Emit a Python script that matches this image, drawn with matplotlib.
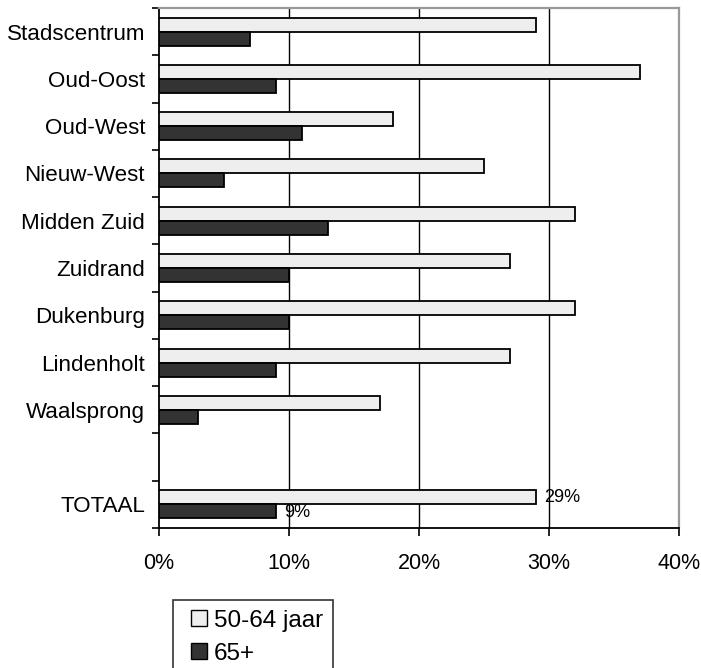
import matplotlib
matplotlib.use("Agg")
import matplotlib.pyplot as plt
from matplotlib.patches import Patch, Rectangle
from matplotlib.legend_handler import HandlerPatch
import numpy as np

plt.rcParams['font.family'] = ['Liberation Sans', 'DejaVu Sans']

categories = ["Stadscentrum", "Oud-Oost", "Oud-West", "Nieuw-West", "Midden Zuid",
              "Zuidrand", "Dukenburg", "Lindenholt", "Waalsprong", "", "TOTAAL"]
series_names = ["50-64 jaar", "65+"]
vals_5064 = [29, 37, 18, 25, 32, 27, 32, 27, 17, None, 29]
vals_65 = [7, 9, 11, 5, 13, 10, 10, 9, 3, None, 9]
label_rows = ["TOTAAL"]
x_ticks = [0, 10, 20, 30, 40]
x_ticklabels = ["0%", "10%", "20%", "30%", "40%"]

light = "#eeeeee"
dark = "#333333"


class SquareAtRight(HandlerPatch):
    """Legend key drawn as a small square at the right end of the handle box."""

    def create_artists(self, legend, orig_handle, xdescent, ydescent,
                       width, height, fontsize, trans):
        side = height * 1.05
        p = Rectangle((width - side - xdescent, -ydescent + (height - side) / 2),
                      side, side, facecolor=orig_handle.get_facecolor(),
                      edgecolor="black", linewidth=1.0, transform=trans)
        return [p]


fig = plt.figure(figsize=(7.01, 6.68), dpi=100)
ax = fig.add_axes([0.2268, 0.2096, 0.7418, 0.7784])

pos = np.arange(len(categories))
h = 0.296
for i, (a, b) in enumerate(zip(vals_5064, vals_65)):
    if a is None:
        continue
    ax.barh(pos[i] - h / 2, a, height=h, color=light, edgecolor="black", linewidth=1.3, zorder=3)
    ax.barh(pos[i] + h / 2, b, height=h, color=dark, edgecolor="black", linewidth=1.3, zorder=3)
    if categories[i] in label_rows:
        ax.text(a + 0.6, pos[i] - h / 2, f"{a}%", va="center", ha="left", fontsize=13, zorder=4)
        ax.text(b + 0.6, pos[i] + h / 2 + 0.02, f"{b}%", va="center", ha="left", fontsize=13, zorder=4)

ax.set_xlim(0, 40)
ax.set_ylim(len(categories) - 0.5, -0.5)

ax.set_xticks(x_ticks)
ax.set_xticklabels(x_ticklabels, fontsize=15.5)
ax.tick_params(axis="x", direction="out", length=6, width=1.2, pad=12, color="black")

ax.set_yticks(np.arange(len(categories) + 1) - 0.5)
ax.set_yticklabels([])
ax.set_yticks(pos, minor=True)
ax.set_yticklabels(categories, minor=True, fontsize=16.1)
ax.tick_params(axis="y", which="major", direction="out", length=5, width=1.2)
ax.tick_params(axis="y", which="minor", length=0, pad=10)

for x in x_ticks[1:-1]:
    ax.axvline(x, color="black", linewidth=1.0, zorder=1)

ax.spines["left"].set_color("black")
ax.spines["left"].set_linewidth(1.3)
ax.spines["bottom"].set_color("black")
ax.spines["bottom"].set_linewidth(1.3)
for s in ("top", "right"):
    ax.spines[s].set_color("#999999")
    ax.spines[s].set_linewidth(1.6)

handles = [Patch(facecolor=light, edgecolor="black"),
           Patch(facecolor=dark, edgecolor="black")]
leg = fig.legend(handles, series_names, loc="upper left",
                 bbox_to_anchor=(0.2464, 0.1018), fontsize=17.5,
                 frameon=True, fancybox=False, edgecolor="black",
                 handler_map={Patch: SquareAtRight()},
                 handlelength=1.0, handleheight=0.55, handletextpad=0.3,
                 borderpad=0.4, labelspacing=0.45, borderaxespad=0)
leg.get_frame().set_linewidth(1.2)

fig.savefig("out.png", dpi=100)
